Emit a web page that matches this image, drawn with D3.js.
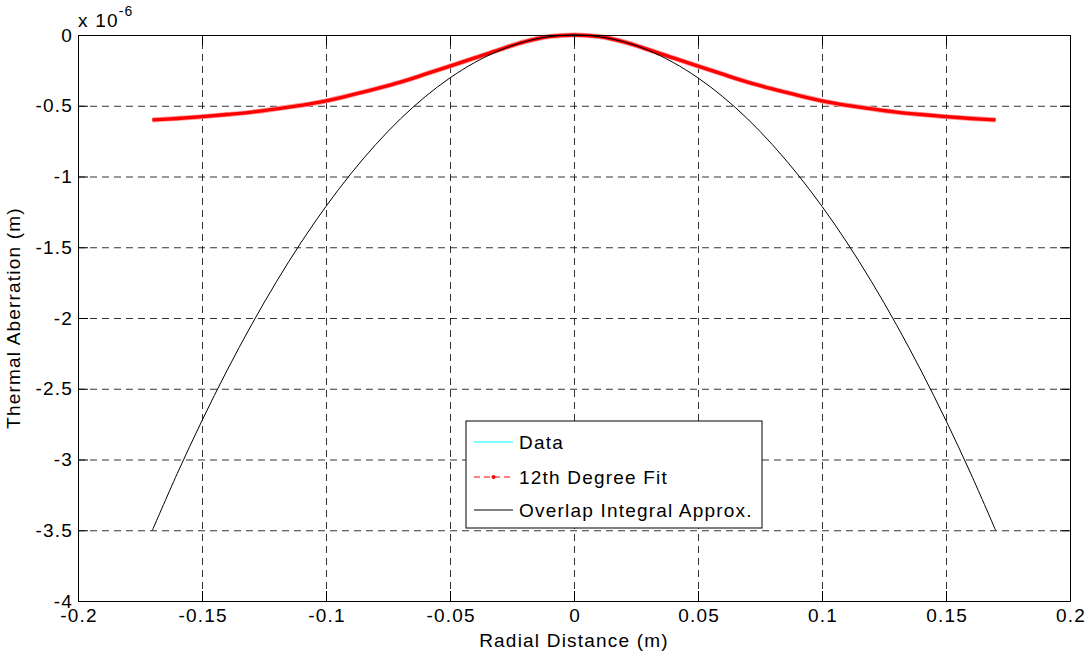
<!DOCTYPE html>
<html>
<head>
<meta charset="utf-8">
<script src="https://cdn.jsdelivr.net/npm/d3@7"></script>
<style>
	body { margin: 0; background: #fff; }
	svg text { font-family: "Liberation Sans", Arial, Helvetica, sans-serif; fill: #000; letter-spacing: 1.2px; }
</style>
</head>
<body>
<div id="chart"></div>
<script>
/* radial positions (m) shared by all series */
const radius = [-0.17, -0.16, -0.15, -0.14, -0.13, -0.12, -0.11, -0.10, -0.09, -0.08, -0.07, -0.06,
	-0.05, -0.04, -0.03, -0.02, -0.01, 0, 0.01, 0.02, 0.03, 0.04, 0.05, 0.06, 0.07, 0.08, 0.09,
	0.10, 0.11, 0.12, 0.13, 0.14, 0.15, 0.16, 0.17];

/* values in units of 1e-6 m */
const dataValues = [-0.600, -0.590, -0.577, -0.562, -0.545, -0.522, -0.497, -0.466, -0.425, -0.381, -0.333, -0.277,
	-0.220, -0.162, -0.103, -0.048, -0.011, 0, -0.011, -0.048, -0.103, -0.162, -0.220, -0.277, -0.333, -0.381, -0.425,
	-0.466, -0.497, -0.522, -0.545, -0.562, -0.577, -0.590, -0.600];

const fitValues = [-0.600, -0.590, -0.577, -0.562, -0.545, -0.522, -0.497, -0.466, -0.425, -0.381, -0.333, -0.277,
	-0.220, -0.162, -0.103, -0.048, -0.011, 0, -0.011, -0.048, -0.103, -0.162, -0.220, -0.277, -0.333, -0.381, -0.425,
	-0.466, -0.497, -0.522, -0.545, -0.562, -0.577, -0.590, -0.600];

const overlapValues = [-3.500, -3.100, -2.725, -2.374, -2.047, -1.744, -1.465, -1.211, -0.981, -0.775, -0.593, -0.436,
	-0.303, -0.194, -0.109, -0.048, -0.012, 0, -0.012, -0.048, -0.109, -0.194, -0.303, -0.436, -0.593, -0.775, -0.981,
	-1.211, -1.465, -1.744, -2.047, -2.374, -2.725, -3.100, -3.500];

const xTicks = [-0.2, -0.15, -0.1, -0.05, 0, 0.05, 0.1, 0.15, 0.2];
const xTickLabels = ["-0.2", "-0.15", "-0.1", "-0.05", "0", "0.05", "0.1", "0.15", "0.2"];
const yTicks = [0, -0.5, -1, -1.5, -2, -2.5, -3, -3.5, -4];
const yTickLabels = ["0", "-0.5", "-1", "-1.5", "-2", "-2.5", "-3", "-3.5", "-4"];

const legendNames = ["Data", "12th Degree Fit", "Overlap Integral Approx."];

const W = 1089, H = 655;
const FS = 19;
const margin = { top: 35, right: 19, bottom: 54, left: 78 };
const width = W - margin.left - margin.right;
const height = H - margin.top - margin.bottom;

const svg = d3.select("#chart").append("svg")
	.attr("width", W)
	.attr("height", H);

const g = svg.append("g")
	.attr("transform", `translate(${margin.left},${margin.top})`);

const x = d3.scaleLinear().domain([-0.2, 0.2]).range([0, width]);
const y = d3.scaleLinear().domain([-4, 0]).range([height, 0]);

/* dashed grid (interior ticks only) */
const gridX = g.append("g")
	.attr("transform", `translate(0,${height})`)
	.call(d3.axisBottom(x).tickValues(xTicks.slice(1, -1)).tickSize(-height).tickFormat(""));
const gridY = g.append("g")
	.call(d3.axisLeft(y).tickValues(yTicks.slice(1, -1)).tickSize(-width).tickFormat(""));
[gridX, gridY].forEach(gr => {
	gr.select(".domain").remove();
	gr.selectAll("line").attr("stroke", "#000").attr("stroke-width", 0.8).attr("stroke-dasharray", "7,5");
});

/* series */
const pts = vals => radius.map((r, i) => [r, vals[i]]);
const line = d3.line().x(d => x(d[0])).y(d => y(d[1])).curve(d3.curveCatmullRom);

g.append("path").attr("d", line(pts(dataValues)))
	.attr("fill", "none").attr("stroke", "#00ffff").attr("stroke-width", 1);
g.append("path").attr("d", line(pts(fitValues)))
	.attr("fill", "none").attr("stroke", "#ff9a9a").attr("stroke-width", 5);
g.append("path").attr("d", line(pts(fitValues)))
	.attr("fill", "none").attr("stroke", "#ff0000").attr("stroke-width", 3.4);
g.append("path").attr("d", line(pts(overlapValues)))
	.attr("fill", "none").attr("stroke", "#000").attr("stroke-width", 1);

/* axes with inward ticks on all four sides */
const fmtX = d => xTickLabels[xTicks.indexOf(d)];
const fmtY = d => yTickLabels[yTicks.indexOf(d)];

const axB = g.append("g").attr("transform", `translate(0,${height})`)
	.call(d3.axisBottom(x).tickValues(xTicks).tickFormat(fmtX).tickSizeInner(-10).tickSizeOuter(0).tickPadding(8));
const axL = g.append("g")
	.call(d3.axisLeft(y).tickValues(yTicks).tickFormat(fmtY).tickSizeInner(-10).tickSizeOuter(0).tickPadding(5));
const axT = g.append("g")
	.call(d3.axisTop(x).tickValues(xTicks).tickFormat("").tickSizeInner(-10).tickSizeOuter(0));
const axR = g.append("g").attr("transform", `translate(${width},0)`)
	.call(d3.axisRight(y).tickValues(yTicks).tickFormat("").tickSizeInner(-10).tickSizeOuter(0));
[axB, axL, axT, axR].forEach(a => {
	a.selectAll("path, line").attr("stroke", "#000").attr("stroke-width", 1);
	a.selectAll("text").attr("font-size", FS).attr("fill", "#000");
});
axB.selectAll("text").attr("dx", "0.6px");

/* exponent label */
const expo = g.append("text").attr("x", 0).attr("y", -8).attr("font-size", FS);
expo.append("tspan").text("x 10");
expo.append("tspan").attr("font-size", 14).attr("dy", -11).text("-6");

/* axis titles */
g.append("text")
	.attr("x", width / 2).attr("y", height + 46)
	.attr("text-anchor", "middle").attr("font-size", FS)
	.text("Radial Distance (m)");
g.append("text")
	.attr("transform", `translate(${-58},${height / 2}) rotate(-90)`)
	.attr("text-anchor", "middle").attr("font-size", FS)
	.text("Thermal Aberration (m)");

/* legend */
const lg = svg.append("g").attr("transform", "translate(466,421)");
lg.append("rect").attr("width", 296).attr("height", 107)
	.attr("fill", "#fff").attr("stroke", "#000").attr("stroke-width", 1);
const rowY = [21, 56, 89];
const legendStyles = [
	{ stroke: "#00ffff", dash: null },
	{ stroke: "#ff0000", dash: "6,4" },
	{ stroke: "#000", dash: null }
];
legendNames.forEach((name, i) => {
	const row = lg.append("g").attr("transform", `translate(0,${rowY[i]})`);
	row.append("line").attr("x1", 8).attr("x2", 47)
		.attr("stroke", legendStyles[i].stroke).attr("stroke-width", 1)
		.attr("stroke-dasharray", legendStyles[i].dash);
	if (i === 1) row.append("circle").attr("cx", 27.5).attr("r", 2).attr("fill", "#ff0000");
	row.append("text").attr("x", 53).attr("dy", "0.35em").attr("font-size", FS).text(name);
});
</script>
</body>
</html>
